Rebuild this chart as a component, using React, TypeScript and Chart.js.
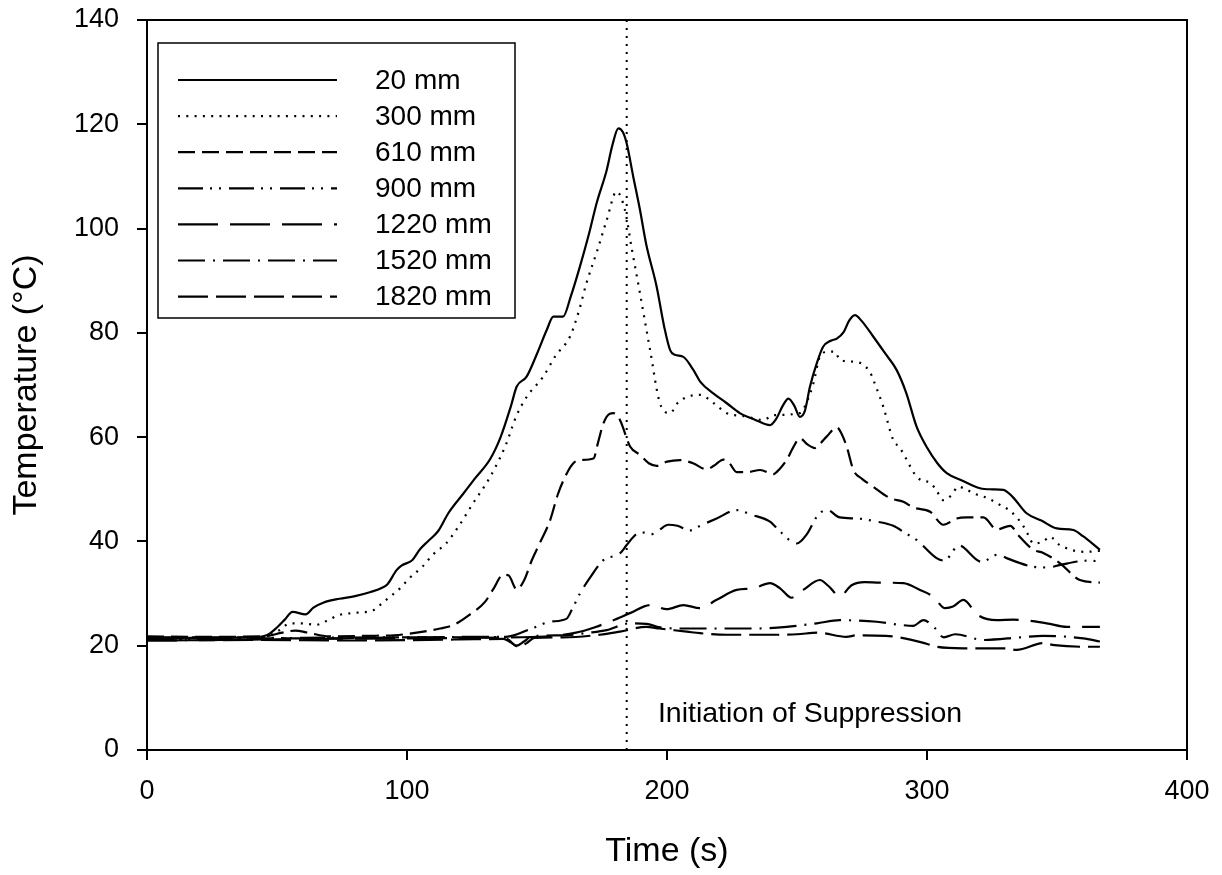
import React, { useEffect, useRef } from "react";
import { Chart, registerables } from "chart.js";

Chart.register(...registerables);

const FONT = "'Liberation Sans', Arial, Helvetica, sans-serif";

// Axes
const xRange = [0, 400];
const yRange = [0, 140];
const xStep = 100;
const yStep = 20;
const xTitle = "Time (s)";
const yTitle = "Temperature (°C)";

// Series labels
const seriesLabels = ["20 mm", "300 mm", "610 mm", "900 mm", "1220 mm", "1520 mm", "1820 mm"];

// Series data: [time (s), temperature (°C)]
const s20: [number, number][] = [
  [0, 21.5], [20, 21.5], [40, 21.6], [46, 22.0], [50, 23.5], [53, 25.0], [56, 26.5], [61, 26.0], [64, 27.3],
  [68, 28.3], [74, 29.0], [80, 29.5], [86, 30.3], [90, 31.0], [92.5, 31.8], [96, 34.5], [98, 35.4], [102, 36.4],
  [105, 38.5], [108, 40.0], [112, 42.0], [116, 45.5], [121.7, 49.2], [126, 52.0], [132, 55.8], [136, 60.0],
  [140, 66.0], [142.2, 69.7], [146, 71.6], [150, 76.0], [153.7, 80.5], [156.3, 83.1], [160, 83.1], [163, 87.0],
  [166.5, 92.7], [170, 99.0], [173, 105.0], [176.8, 111.2], [179, 116.0], [181.3, 119.2], [183, 118.5],
  [184.5, 116.3], [187, 110.0], [189.6, 103.6], [192, 97.0], [196, 88.9], [199, 81.0], [201.2, 76.7],
  [203, 75.8], [206.3, 75.4], [210, 73.0], [213, 70.5], [217.8, 68.4], [223, 66.5], [228, 64.6], [234, 63.3],
  [239.6, 62.3], [242, 63.5], [244.5, 66.0], [246.7, 67.4], [249, 66.0], [251.1, 63.9], [253, 65.0], [255, 69.7],
  [257.5, 74.0], [260, 77.3], [263, 78.5], [265.3, 78.9], [268, 80.2], [270, 82.3], [272.3, 83.4], [275, 82.2],
  [279.3, 79.3], [284, 76.0], [288.3, 72.9], [292, 68.5], [296, 62.0], [300, 58.0], [304, 55.0], [307.6, 53.1],
  [313, 51.8], [320.4, 50.2], [325, 50.0], [329.4, 49.9], [333, 48.5], [338.3, 45.4], [344, 44.0], [350, 42.5],
  [356.3, 42.2], [360, 41.0], [366.5, 38.4],
];

const s300: [number, number][] = [
  [0, 21.3], [40, 21.3], [46, 21.8], [51, 23.0], [55, 24.3], [60, 24.3], [65, 24.0], [70, 25.0], [74, 25.9],
  [80, 26.3], [87, 26.8], [91, 28.4], [97.3, 31.0], [101, 33.0], [106, 35.2], [110, 37.5], [115, 39.6],
  [120, 43.0], [125, 47.0], [132, 52.4], [138, 58.5], [142, 64.0], [146, 67.7], [152.4, 71.6], [157, 75.5],
  [162.7, 79.3], [166, 84.0], [169, 89.5], [173, 95.5], [176.8, 101.6], [180.6, 107.1], [183.8, 103.6],
  [186.5, 96.0], [189.6, 87.6], [193.5, 76.7], [197.3, 66.5], [201.2, 64.6], [204, 66.5], [207.6, 67.7],
  [212.7, 68.1], [218, 66.5], [223, 64.6], [230, 64.0], [237, 63.3], [241, 64.2], [251, 64.6], [254, 67.0],
  [256.3, 70.3], [258.8, 75.4], [262, 76.4], [264.6, 76.4], [266.5, 74.8], [273, 74.4], [278, 72.5],
  [280.5, 69.5], [283.2, 65.8], [287, 59.5], [289.6, 57.9], [291.5, 56.3], [293.2, 54.7], [295, 53.1],
  [297.9, 51.7], [301.2, 51.3], [303.7, 49.7], [306.3, 47.9], [309.5, 48.9], [312, 50.5], [315.3, 49.9],
  [318.5, 49.1], [321.7, 48.6], [324.9, 47.9], [328.1, 47.0], [331.9, 45.9], [334.5, 44.6], [337, 43.0],
  [339, 41.2], [340.9, 39.6], [344.7, 40.0], [347.3, 40.9], [350.5, 39.5], [353.7, 38.7], [356.9, 38.2],
  [360.8, 38.0], [366.5, 38.2],
];

const s610: [number, number][] = [
  [0, 21.8], [20, 21.7], [45, 21.8], [52, 22.5], [57, 22.9], [62, 22.5], [70, 21.8], [85, 21.9], [95, 22.0],
  [105, 22.6], [112.7, 23.3], [118, 24.0], [124, 25.9], [130, 28.4], [133, 30.7], [137, 33.6], [139, 33.5],
  [142.2, 30.8], [145, 32.5], [148, 36.4], [151, 39.6], [155, 44.0], [158, 49.0], [161.4, 53.0], [164, 55.0],
  [166.5, 55.6], [171.7, 55.9], [173.5, 59.0], [175.5, 62.6], [178, 64.5], [179.4, 64.6], [181.9, 63.3],
  [185.8, 58.2], [189.6, 56.6], [193, 55.0], [196, 54.5], [200, 55.3], [205, 55.6], [210, 55.0], [215.3, 53.8],
  [218, 54.5], [221.7, 55.7], [224, 55.0], [226.8, 53.3], [231, 53.3], [235.8, 53.7], [240.9, 52.9],
  [243.5, 54.0], [246, 55.6], [248.5, 58.0], [251.1, 59.8], [254, 58.6], [256.9, 57.9], [259, 58.8],
  [261.4, 60.1], [265.3, 61.9], [267, 60.8], [269.1, 58.2], [271.7, 53.7], [275, 52.0], [279.3, 50.5],
  [285.8, 48.3], [290.9, 47.6], [294.7, 46.5], [301.2, 45.7], [306.3, 43.2], [311.4, 44.4], [315.3, 44.6],
  [321.7, 44.6], [326.8, 42.3], [332, 43.0], [335.1, 41.2], [340.9, 38.4], [344.7, 37.8], [351.2, 35.8],
  [358.8, 32.6], [366.5, 32.1],
];

const s900: [number, number][] = [
  [0, 21.2], [30, 21.3], [60, 21.5], [100, 21.6], [138, 21.7], [148.5, 23.4], [155, 24.6], [161.4, 25.2],
  [163.5, 27.0], [166.5, 30.0], [171, 33.5], [175.5, 36.4], [181.9, 37.7], [184.5, 39.3], [188, 41.3],
  [190.9, 41.7], [194.1, 41.4], [197, 42.2], [200.5, 43.2], [204, 43.0], [208.8, 42.1], [212.7, 43.0],
  [219.1, 44.4], [226.8, 46.0], [232.6, 45.1], [239.6, 43.8], [243.5, 41.9], [249.9, 39.6], [253.8, 41.4],
  [257.6, 44.7], [261.4, 46.1], [266.5, 44.6], [273, 44.4], [280.7, 43.8], [287, 43.0], [292, 41.5],
  [296, 40.3], [303.7, 36.8], [306.9, 36.3], [309.5, 37.8], [312, 39.3], [321, 36.1], [327.4, 37.5],
  [330.6, 36.8], [340.3, 35.2], [346.7, 35.0], [351.2, 35.5], [361.4, 36.3], [366.5, 36.2],
];

const s1220: [number, number][] = [
  [0, 21.0], [30, 21.1], [60, 21.3], [100, 21.4], [140, 21.6], [155, 21.8], [165, 22.5], [172, 23.5],
  [179.4, 24.9], [186, 26.3], [193.5, 27.8], [199.9, 27.0], [206.3, 27.8], [212.7, 27.2], [219.1, 28.8],
  [226.8, 30.7], [233.2, 31.0], [239.6, 32.0], [243.5, 31.0], [247.9, 29.2], [252.4, 30.7], [258.8, 32.6],
  [262, 31.5], [266.5, 29.5], [271, 31.6], [276, 32.2], [281.9, 32.1], [290.9, 32.0], [297.3, 30.7],
  [302.4, 29.4], [307, 27.2], [310, 27.5], [314, 28.8], [319.5, 25.9], [326.8, 24.9], [333.2, 25.0],
  [346, 24.3], [353.7, 23.6], [366.5, 23.6],
];

const s1520: [number, number][] = [
  [0, 21.6], [40, 21.6], [60, 21.4], [100, 21.6], [135, 21.7], [139, 21.2], [142, 20.0], [145, 20.8],
  [148, 21.8], [160, 22.0], [170, 22.5], [176.8, 23.0], [185.8, 24.3], [192.1, 24.2], [197.3, 23.5],
  [207.6, 23.3], [217.8, 23.3], [234.5, 23.3], [246, 23.6], [257.6, 24.3], [266.5, 24.9], [280.7, 24.6],
  [289.6, 24.0], [294.7, 23.8], [298.6, 24.9], [303.2, 23.3], [306.4, 21.6], [310.9, 22.2], [321.7, 21.1],
  [335.8, 21.6], [344.7, 21.9], [360.1, 21.4], [366.5, 20.8],
];

const s1820: [number, number][] = [
  [0, 21.0], [40, 21.1], [80, 21.0], [120, 21.2], [137, 21.3], [140, 20.6], [143, 19.8], [146, 20.5],
  [149, 21.5], [160, 21.6], [174.2, 22.1], [181.9, 22.7], [192, 23.6], [197, 23.3], [207.6, 22.7],
  [212.7, 22.4], [223, 22.1], [240, 22.1], [250, 22.2], [258, 22.5], [269, 21.7], [273, 22.0], [284, 21.9],
  [288, 21.7], [299, 20.5], [303.7, 19.8], [314, 19.5], [319, 19.5], [330, 19.5], [334.5, 19.2], [344.7, 20.5],
  [349, 20.1], [360, 19.8], [366.5, 19.8],
];

const seriesData = [s20, s300, s610, s900, s1220, s1520, s1820];
const seriesDash: number[][] = [
  [],
  [2, 6.3],
  [17, 7],
  [25, 7, 2, 7, 2, 8],
  [40, 12],
  [27, 8, 2, 8],
  [30, 8],
];

// Suppression marker
const suppressionTime = 184.5;
const suppressionLabel = "Initiation of Suppression";
const suppressionLabelAt: [number, number] = [196.5, 6.9];

const overlayPlugin = {
  id: "overlay",
  afterDraw(chart: any) {
    const { ctx, chartArea: a, scales } = chart;
    ctx.save();
    // frame
    ctx.setLineDash([]);
    ctx.strokeStyle = "#000";
    ctx.lineWidth = 2;
    ctx.strokeRect(a.left, a.top, a.right - a.left, a.bottom - a.top);

    // annotation text
    ctx.fillStyle = "#000";
    ctx.font = `28.5px ${FONT}`;
    ctx.textAlign = "left";
    ctx.textBaseline = "middle";
    ctx.fillText(
      suppressionLabel,
      scales.x.getPixelForValue(suppressionLabelAt[0]),
      scales.y.getPixelForValue(suppressionLabelAt[1])
    );

    // legend box
    const lx = a.left + 11;
    const ly = a.top + 23;
    const lw = 357;
    const lh = 275;
    ctx.fillStyle = "#fff";
    ctx.fillRect(lx, ly, lw, lh);
    ctx.lineWidth = 1.5;
    ctx.strokeStyle = "#000";
    ctx.strokeRect(lx, ly, lw, lh);

    seriesLabels.forEach((label, i) => {
      const y = a.top + 60 + 36.1 * i;
      ctx.beginPath();
      ctx.setLineDash(seriesDash[i]);
      ctx.lineWidth = 2.2;
      ctx.lineCap = "butt";
      ctx.moveTo(a.left + 31, y);
      ctx.lineTo(a.left + 190, y);
      ctx.stroke();
      ctx.setLineDash([]);
      ctx.fillStyle = "#000";
      ctx.font = `28px ${FONT}`;
      ctx.textAlign = "left";
      ctx.textBaseline = "middle";
      ctx.fillText(label, a.left + 228, y + 1);
    });
    ctx.restore();
  },
};

export default function App() {
  const ref = useRef<HTMLCanvasElement>(null);

  useEffect(() => {
    if (!ref.current) return;
    const datasets: any[] = seriesData.map((d, i) => ({
      label: seriesLabels[i],
      data: d.map(([x, y]) => ({ x, y })),
      borderColor: "#000",
      backgroundColor: "#000",
      borderWidth: 2.2,
      borderDash: seriesDash[i],
      borderCapStyle: "butt",
      pointRadius: 0,
      pointHoverRadius: 0,
      fill: false,
      cubicInterpolationMode: "monotone",
    }));
    datasets.push({
      label: "suppression",
      data: [
        { x: suppressionTime, y: yRange[0] },
        { x: suppressionTime, y: yRange[1] },
      ],
      borderColor: "#000",
      borderWidth: 2,
      borderDash: [2, 6],
      pointRadius: 0,
      fill: false,
      tension: 0,
    });

    const tickFont = { family: FONT, size: 27 };
    const titleFont = { family: FONT, size: 34 };

    const chart = new Chart(ref.current, {
      type: "line",
      data: { datasets },
      plugins: [overlayPlugin],
      options: {
        responsive: false,
        animation: false,
        devicePixelRatio: 1,
        events: [],
        layout: { padding: { left: 0, right: 35, top: 20, bottom: 0 } },
        plugins: {
          legend: { display: false },
          tooltip: { enabled: false },
        },
        scales: {
          x: {
            type: "linear",
            position: "bottom",
            min: xRange[0],
            max: xRange[1],
            ticks: { stepSize: xStep, font: tickFont, color: "#000", padding: 15, maxRotation: 0 },
            grid: { drawOnChartArea: false, drawTicks: true, tickLength: 10, color: "#000", lineWidth: 2 },
            border: { display: true, color: "#000", width: 2 },
            title: { display: true, text: xTitle, font: titleFont, color: "#000", padding: { top: 0, bottom: 3 } },
            afterFit: (s: any) => {
              s.height = 125;
              s.paddingLeft = 0;
              s.paddingRight = 0;
            },
          },
          y: {
            type: "linear",
            position: "left",
            min: yRange[0],
            max: yRange[1],
            ticks: { stepSize: yStep, font: tickFont, color: "#000", padding: 18 },
            grid: { drawOnChartArea: false, drawTicks: true, tickLength: 10, color: "#000", lineWidth: 2 },
            border: { display: true, color: "#000", width: 2 },
            title: { display: true, text: yTitle, font: titleFont, color: "#000", padding: { top: 6, bottom: 0 } },
            afterFit: (s: any) => {
              s.width = 147;
              s.paddingTop = 0;
              s.paddingBottom = 0;
            },
          },
        },
      } as any,
    });
    return () => chart.destroy();
  }, []);

  return (
    <div style={{ position: "fixed", left: 0, top: 0, width: 1222, height: 875, background: "#fff" }}>
      <canvas ref={ref} width={1222} height={875} style={{ display: "block" }} />
    </div>
  );
}
